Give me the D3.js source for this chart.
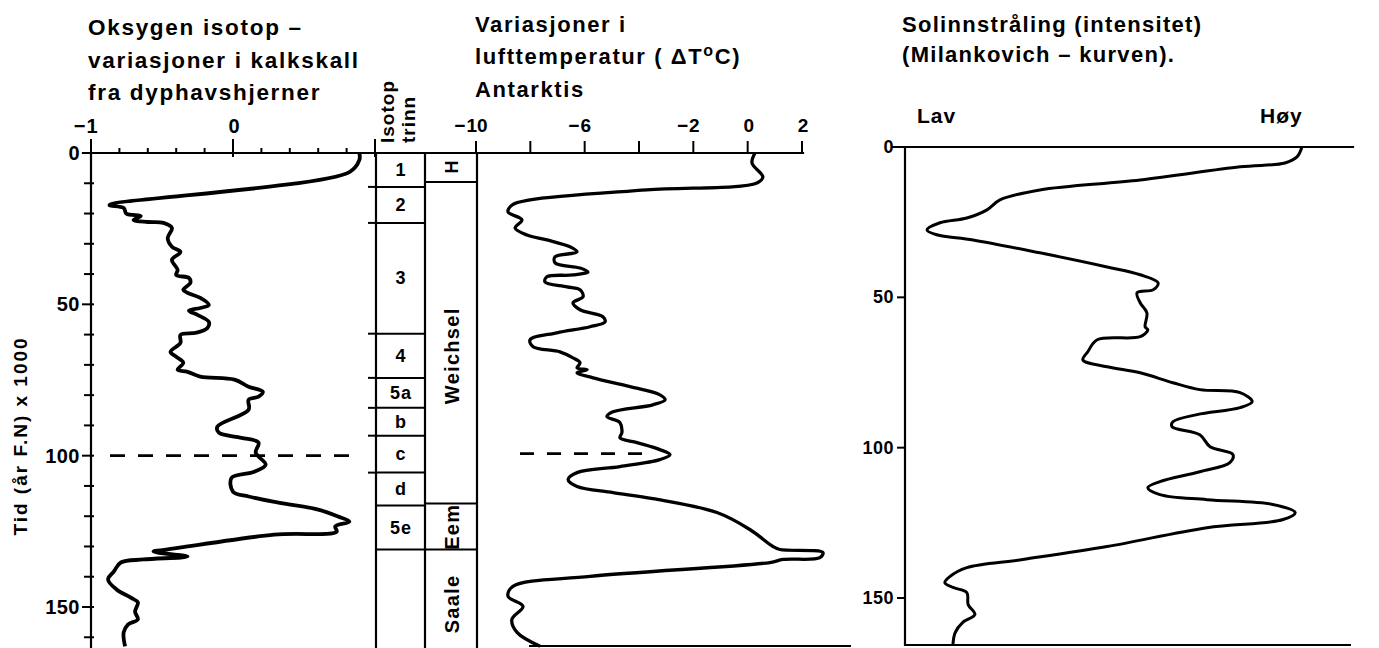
<!DOCTYPE html>
<html><head><meta charset="utf-8">
<script src="https://cdn.jsdelivr.net/npm/d3@7"></script>
<style>
body{margin:0;background:#fff;}
svg text{font-family:"Liberation Sans",Arial,Helvetica,sans-serif;font-weight:bold;fill:#000;}
</style></head><body>
<svg id="c" width="1379" height="648"></svg>
<script>
// ---- DATA (time in 1000 years before present, value) ----
const isotopeCurve = [
 [0,0.89],[2.3,0.89],[6.3,0.82],[17.2,-0.87],[18.2,-0.77],[20.1,-0.75],[20.8,-0.65],[22.1,-0.70],
 [22.8,-0.60],[23.1,-0.49],[24.8,-0.43],[28.1,-0.46],[31.0,-0.43],[32.7,-0.37],[35.3,-0.43],
 [38.6,-0.39],[40.3,-0.40],[41.3,-0.31],[42.9,-0.30],[45.2,-0.35],[46.2,-0.32],[47.9,-0.23],
 [50.2,-0.17],[51.2,-0.23],[52.1,-0.31],[53.5,-0.25],[55.8,-0.17],[57.8,-0.18],[59.4,-0.26],
 [60.1,-0.37],[62.7,-0.37],[65.7,-0.44],[67.3,-0.40],[69.3,-0.35],[71.6,-0.39],[72.3,-0.32],
 [73.9,-0.23],[74.9,0.01],[77.2,0.11],[78.9,0.21],[80.5,0.18],[81.5,0.11],[84.8,0.11],
 [90.4,-0.11],[92.4,-0.10],[94.1,0.06],[95.7,0.18],[99.0,0.16],[103.0,0.23],[105.3,0.15],
 [107.3,-0.01],[111.9,0.00],[113.5,0.11],[115.5,0.32],[117.8,0.60],[120.1,0.74],[121.8,0.82],
 [123.4,0.72],[125.1,0.73],[126.1,0.29],[131.0,-0.46],[131.7,-0.56],[133.3,-0.32],[134.3,-0.63],
 [135.3,-0.79],[138.3,-0.84],[140.9,-0.88],[144.2,-0.82],[146.9,-0.72],[148.5,-0.67],[151.5,-0.69],
 [154.1,-0.67],[155.8,-0.74],[158.4,-0.77],[163.0,-0.76]
];
const tempCurve = [
 [0,0.27],[3.3,0.16],[7.9,0.56],[9.9,0.34],[12.2,-3.71],[15.5,-8.01],[17.2,-8.67],[19.5,-8.82],
 [22.1,-8.31],[24.8,-8.56],[27.1,-8.12],[28.7,-7.39],[31.0,-6.54],[32.7,-6.28],[34.3,-7.09],
 [36.3,-7.09],[38.0,-6.17],[39.3,-5.88],[40.3,-6.43],[40.9,-7.39],[42.6,-7.46],[44.2,-6.65],
 [45.2,-6.17],[47.5,-6.06],[49.5,-6.43],[51.8,-6.17],[54.1,-5.33],[55.8,-5.25],[57.4,-5.80],
 [59.4,-7.02],[61.7,-8.01],[64.0,-7.90],[65.7,-6.91],[67.7,-6.43],[69.3,-6.17],[71.0,-6.28],
 [71.6,-5.91],[72.6,-6.28],[74.3,-5.69],[77.2,-4.33],[79.9,-3.23],[81.5,-3.04],[83.2,-3.49],
 [85.5,-4.96],[87.1,-5.18],[89.1,-4.70],[92.4,-4.63],[94.1,-4.70],[95.7,-4.07],[98.0,-3.23],
 [99.7,-2.86],[101.3,-3.23],[103.6,-4.70],[105.6,-6.28],[107.9,-6.61],[110.2,-6.28],[112.2,-4.96],
 [114.2,-3.49],[118.8,-1.13],[124.4,0.08],[130.0,0.93],[131.0,1.19],[132.0,2.77],[133.7,2.66],
 [134.3,1.30],[135.3,0.82],[139.9,-5.80],[143.2,-8.64],[146.5,-8.82],[149.8,-8.27],[154.1,-8.68],
 [158.4,-8.49],[163.0,-7.64]
];
const insolationCurve = [
 [0,88.6],[3.3,87.5],[5.3,84.8],[6.6,74.8],[11.0,52.5],[14.3,30.1],[17.6,21.2],[20.9,18.3],
 [23.6,13.8],[25.2,7.8],[27.6,4.9],[29.2,7.1],[30.9,15.2],[35.2,30.1],[39.9,45.1],[42.5,52.5],
 [45.2,56.5],[47.5,55.4],[48.5,51.8],[51.8,52.5],[55.2,54.0],[59.8,53.6],[60.8,54.2],[63.1,52.5],
 [64.1,42.9],[68.1,40.8],[70.8,39.7],[73.1,45.1],[75.1,52.5],[78.4,59.8],[80.7,65.8],[81.7,74.8],
 [84.7,77.5],[86.7,74.8],[89.0,65.2],[91.4,59.8],[93.0,59.6],[95.7,65.8],[99.7,68.1],[102.3,73.2],
 [105.0,72.5],[108.0,65.8],[111.3,56.9],[113.3,54.2],[115.6,56.9],[117.3,67.4],[118.9,82.1],
 [121.6,87.1],[123.9,84.4],[126.6,67.4],[132.9,45.1],[137.2,26.3],[139.9,13.8],[142.9,10.0],
 [144.9,8.9],[146.5,10.7],[148.2,13.8],[152.2,14.1],[155.5,15.6],[158.1,12.9],[161.5,11.2],[165.4,10.7]
];
const stageNames  = ["1","2","3","4","5a","b","c","d","5e",""];
const stageBounds = [0,11.2,23.1,59.7,74.3,84.2,93.4,105.6,116.5,131.0,163];
const stageTickBounds = [11.2,23.1,59.7,74.3,84.2,93.4,105.6];
const periodNames  = ["H","Weichsel","Eem","Saale"];
const periodBounds = [0,9.6,115.8,131.0,163];
const periodLabelAt = [4.6,67,123.5,149];
const timeTicks = [0,50,100,150];
const isoLabelTicks = [-1,0];
const tempLabelTicks = [-10,-6,-2,0,2];
const dashedTime = 100;

const svg = d3.select("#c");
const W = 1379, H = 648;

// scales
const yL = d3.scaleLinear().domain([0,150]).range([153,607]);
const xIso = d3.scaleLinear().domain([-1,1]).range([91,375]);
const xTemp = d3.scaleLinear().domain([-10,2]).range([476,802]);
const yR = d3.scaleLinear().domain([0,150]).range([147,598]);
const xSun = d3.scaleLinear().domain([0,100]).range([905,1353]);

const ax = svg.append("g").attr("stroke","#000").attr("fill","none").attr("stroke-linecap","square");
function line(x1,y1,x2,y2,w){ax.append("line").attr("x1",x1).attr("y1",y1).attr("x2",x2).attr("y2",y2).attr("stroke-width",w||2.2);}

function txt(x,y,s,size,opts){
  opts=opts||{};
  const t = svg.append("text").attr("x",x).attr("y",y).style("font-size",size+"px")
    .attr("text-anchor",opts.anchor||"start").style("letter-spacing",(opts.ls==null?1.4:opts.ls)+"px").text(s);
  if(opts.rot!=null) t.attr("transform",`rotate(${opts.rot},${x},${y})`);
  if(opts.db) t.attr("dominant-baseline",opts.db);
  return t;
}
function tickLabel(x,y,v,size){
  const t = txt(x,y,String(Math.abs(v)),size,{anchor:"middle",ls:0});
  if(v<0){
    const w = t.node().getComputedTextLength();
    txt(x-w/2-1,y,"\u2212",size,{anchor:"end",ls:0});
  }
}

// ---- titles ----
[["Oksygen isotop \u2013",35],["variasjoner i kalkskall",68],["fra dyphavshjerner",100]]
  .forEach(d=>txt(88,d[1],d[0],22.5,{ls:1.7}));
txt(475,32,"Variasjoner i",22,{ls:1.6});
const t2 = txt(475,64,"lufttemperatur ( \u0394T",22,{ls:1.6});
t2.append("tspan").attr("dy",-8).style("font-size","16px").text("o");
t2.append("tspan").attr("dy",8).text("C)");
txt(475,97,"Antarktis",22,{ls:1.6});
txt(902,32,"Solinnstr\u00e5ling (intensitet)",22,{ls:1.3});
txt(902,62,"(Milankovich \u2013 kurven).",22,{ls:1.3});
txt(917,123,"Lav",21,{ls:1});
txt(1260,123,"H\u00f8y",21,{ls:1});

// y axis title
txt(27,436,"Tid (\u00e5r F.N) x 1000",19,{anchor:"middle",rot:-90,ls:2});
// Isotop trinn
txt(394,143,"Isotop",19,{rot:-90,ls:1});
txt(415,143,"trinn",19,{rot:-90,ls:1});

// ---- left panel axes ----
line(83,yL(0),803,yL(0));          // top line across
line(xIso(-1),yL(0),xIso(-1),H);   // left y axis
d3.range(0,170,10).forEach(t=>{
  const major = t%50===0;
  line(xIso(-1)-(major?8:6),yL(t),xIso(-1)+2,yL(t),2);
});
d3.range(-1,1.0001,0.2).forEach(v=>{
  const major = Math.abs(v-Math.round(v))<1e-6;
  line(xIso(v),yL(0)-(major?13:4),xIso(v),yL(0)+(major?3:0),2);
});
isoLabelTicks.forEach(v=>tickLabel(xIso(v)+1,133,v,20));
timeTicks.forEach(t=>txt(80,yL(t),String(t),20,{anchor:"end",db:"central",ls:0.5}));

// ---- table ----
const c0=376,c1=425,c2=477;
line(c0,yL(0),c0,H);
line(c1,yL(0),c1,H);
line(c2,yL(0),c2,H);
stageBounds.slice(1,-1).forEach(b=>line(c0,yL(b),c1,yL(b),2));
stageTickBounds.forEach(b=>line(c0-7,yL(b),c0,yL(b),2));
periodBounds.slice(1,-1).forEach(b=>line(c1,yL(b),c2,yL(b),2));
stageNames.forEach((s,i)=>{
  if(!s) return;
  txt(401,(yL(stageBounds[i])+yL(stageBounds[i+1]))/2,s,18,{anchor:"middle",db:"central",ls:1});
});
periodNames.forEach((s,i)=>{
  txt(452,yL(periodLabelAt[i]),s,i===0?18:20,{anchor:"middle",db:"central",rot:-90,ls:i===0?0:1.3});
});

// ---- middle panel axes ----
d3.range(-10,2.001,2).forEach(v=>line(xTemp(v),yL(0)-11,xTemp(v),yL(0),2));
tempLabelTicks.forEach(v=>tickLabel(xTemp(v)+1,132,v,19));
line(530,646,850,646,2);

// ---- right panel axes ----
line(893,yR(0),1353,yR(0));
line(xSun(0),yR(0),xSun(0),645);
line(xSun(0),645,1350,645,2);
timeTicks.forEach(t=>{
  line(xSun(0)-7,yR(t),xSun(0),yR(t),2);
  txt(894,yR(t),String(t),18,{anchor:"end",db:"central",ls:0.5});
});

// ---- dashed lines ----
svg.append("line").attr("x1",110).attr("x2",355).attr("y1",yL(dashedTime)).attr("y2",yL(dashedTime))
  .attr("stroke","#000").attr("stroke-width",2.6).attr("stroke-dasharray","15,13");
svg.append("line").attr("x1",520).attr("x2",655).attr("y1",yL(dashedTime)-2).attr("y2",yL(dashedTime)-2)
  .attr("stroke","#000").attr("stroke-width",2.6).attr("stroke-dasharray","14,13");

// ---- curves ----
const mk = (xs,ys)=>d3.line().x(d=>xs(d[1])).y(d=>ys(d[0])).curve(d3.curveCatmullRom.alpha(0.5));
svg.append("path").datum(isotopeCurve).attr("d",mk(xIso,yL)).attr("fill","none").attr("stroke","#000")
  .attr("stroke-width",3.8).attr("stroke-linejoin","round");
svg.append("path").datum(tempCurve).attr("d",mk(xTemp,yL)).attr("fill","none").attr("stroke","#000")
  .attr("stroke-width",3.3).attr("stroke-linejoin","round");
svg.append("path").datum(insolationCurve).attr("d",mk(xSun,yR)).attr("fill","none").attr("stroke","#000")
  .attr("stroke-width",3).attr("stroke-linejoin","round");
</script></body></html>
